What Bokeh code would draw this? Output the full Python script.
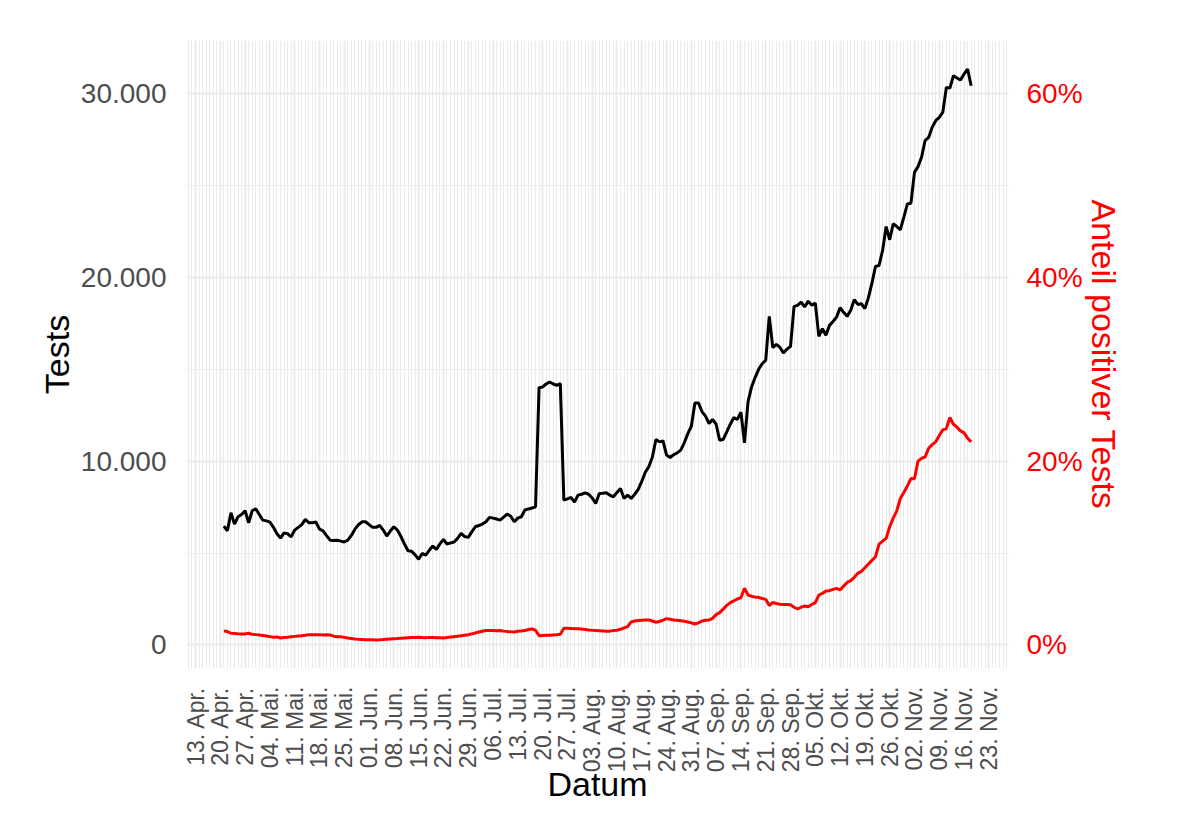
import math
import pandas as pd
from bokeh.plotting import figure
from bokeh.models import (ColumnDataSource, Range1d, LinearAxis, FixedTicker)
from bokeh.embed import file_html
from bokeh.resources import INLINE

# ---------------- data ----------------
start_date = "2020-04-21"
tests = [
    6470, 6210, 7190, 6575, 6975, 7100, 7300, 6650, 7300, 7410, 7100, 6790, 6750, 6685,
    6400, 6050, 5815, 6100, 6050, 5885, 6250, 6400, 6550, 6830, 6650, 6650, 6685, 6300,
    6210, 5950, 5700, 5680, 5700, 5650, 5600, 5700, 5960, 6300, 6540, 6700, 6700, 6550,
    6400, 6400, 6505, 6250, 5925, 6200, 6430, 6250, 5900, 5490, 5125, 5100, 4900, 4660,
    4980, 4890, 5150, 5380, 5200, 5500, 5745, 5490, 5550, 5600, 5800, 6070, 5900, 5850,
    6150, 6430, 6500, 6575, 6700, 6940, 6900, 6850, 6790, 6950, 7120, 7000, 6700, 6900,
    6975, 7340, 7400, 7450, 7515, 14000, 14040, 14200, 14310, 14200, 14130, 14220, 7880, 7950,
    8025, 7770, 8150, 8200, 8280, 8200, 8000, 7700, 8245, 8250, 8280, 8150, 8060, 8300,
    8515, 7970, 8150, 7970, 8200, 8460, 8900, 9400, 9700, 10230, 11180, 11050, 11100, 10330,
    10200, 10350, 10450, 10600, 11000, 11500, 11900, 13170, 13170, 12700, 12450, 12050, 12270, 12010,
    11140, 11180, 11600, 12010, 12375, 12270, 12660, 11000, 13230, 14040, 14550, 15000, 15300, 15490,
    17880, 16180, 16360, 16200, 15890, 16100, 16250, 18425, 18480, 18660, 18390, 18710, 18480, 18600,
    16790, 17210, 16850, 17390, 17600, 17840, 18350, 18100, 17880, 18210, 18790, 18530, 18570, 18300,
    18900, 19700, 20600, 20650, 21470, 22770, 22050, 22920, 22770, 22590, 23280, 24000, 24040, 25720,
    26030, 26540, 27450, 27620, 28170, 28530, 28710, 28990, 30340, 30300, 30980, 30850, 30740, 31070,
    31340, 30430,
]
positive_pct = [
    1.52, 1.45, 1.27, 1.25, 1.22, 1.20, 1.20, 1.27, 1.15, 1.12, 1.07, 1.02, 0.97, 0.90,
    0.83, 0.87, 0.76, 0.80, 0.83, 0.88, 0.93, 0.98, 1.00, 1.05, 1.12, 1.10, 1.10, 1.10,
    1.09, 1.10, 1.09, 0.95, 0.90, 0.88, 0.82, 0.75, 0.70, 0.65, 0.62, 0.60, 0.57, 0.56,
    0.55, 0.54, 0.55, 0.58, 0.62, 0.65, 0.68, 0.70, 0.73, 0.76, 0.78, 0.80, 0.80, 0.83,
    0.80, 0.78, 0.82, 0.80, 0.78, 0.77, 0.76, 0.80, 0.85, 0.90, 0.95, 1.00, 1.05, 1.10,
    1.20, 1.30, 1.40, 1.48, 1.56, 1.56, 1.58, 1.55, 1.56, 1.50, 1.45, 1.42, 1.41, 1.48,
    1.52, 1.56, 1.68, 1.74, 1.60, 1.01, 1.03, 1.05, 1.05, 1.08, 1.10, 1.16, 1.81, 1.82,
    1.80, 1.77, 1.75, 1.72, 1.68, 1.63, 1.60, 1.58, 1.55, 1.52, 1.49, 1.50, 1.56, 1.60,
    1.70, 1.85, 2.00, 2.50, 2.60, 2.65, 2.68, 2.70, 2.72, 2.60, 2.47, 2.55, 2.70, 2.86,
    2.80, 2.72, 2.68, 2.64, 2.57, 2.50, 2.40, 2.28, 2.40, 2.60, 2.68, 2.72, 2.90, 3.30,
    3.51, 3.90, 4.30, 4.60, 4.80, 5.00, 5.14, 6.16, 5.43, 5.30, 5.20, 5.18, 5.05, 4.96,
    4.28, 4.64, 4.50, 4.42, 4.40, 4.40, 4.38, 4.10, 3.91, 4.10, 4.24, 4.16, 4.40, 4.60,
    5.43, 5.60, 5.87, 5.90, 6.05, 6.16, 5.98, 6.40, 6.80, 7.00, 7.36, 7.79, 8.00, 8.40,
    8.80, 9.20, 9.60, 10.98, 11.30, 11.60, 12.86, 13.80, 14.60, 15.94, 16.60, 17.30, 18.10, 18.08,
    20.00, 20.30, 20.47, 21.40, 21.80, 22.10, 22.80, 23.40, 23.55, 24.75, 24.02, 23.70, 23.30, 23.08,
    22.50, 22.10,
]
tick_dates = ["2020-04-13", "2020-04-20", "2020-04-27", "2020-05-04", "2020-05-11",
              "2020-05-18", "2020-05-25", "2020-06-01", "2020-06-08", "2020-06-15",
              "2020-06-22", "2020-06-29", "2020-07-06", "2020-07-13", "2020-07-20",
              "2020-07-27", "2020-08-03", "2020-08-10", "2020-08-17", "2020-08-24",
              "2020-08-31", "2020-09-07", "2020-09-14", "2020-09-21", "2020-09-28",
              "2020-10-05", "2020-10-12", "2020-10-19", "2020-10-26", "2020-11-02",
              "2020-11-09", "2020-11-16", "2020-11-23"]
tick_labels = ["13. Apr.", "20. Apr.", "27. Apr.", "04. Mai.", "11. Mai.", "18. Mai.",
               "25. Mai.", "01. Jun.", "08. Jun.", "15. Jun.", "22. Jun.", "29. Jun.",
               "06. Jul.", "13. Jul.", "20. Jul.", "27. Jul.", "03. Aug.", "10. Aug.",
               "17. Aug.", "24. Aug.", "31. Aug.", "07. Sep.", "14. Sep.", "21. Sep.",
               "28. Sep.", "05. Okt.", "12. Okt.", "19. Okt.", "26. Okt.", "02. Nov.",
               "09. Nov.", "16. Nov.", "23. Nov."]
y_ticks = [0, 10000, 20000, 30000]
y_labels = ["0", "10.000", "20.000", "30.000"]
pct_ticks = [0, 20, 40, 60]
pct_labels = ["0%", "20%", "40%", "60%"]

# ---------------- build ----------------
dates = pd.date_range(start_date, periods=len(tests), freq="D")
scale = 50000 / 100.0  # 20 % <-> 10.000 tests
src = ColumnDataSource(dict(date=dates, tests=tests, pct=positive_pct))

def ms(d):
    return float(pd.Timestamp(d).value // 10**6)

DAY = 86400000.0
x0 = ms(dates[0]) - 0.05 * (ms(dates[-1]) - ms(dates[0]))
x1 = ms(dates[-1]) + 0.05 * (ms(dates[-1]) - ms(dates[0]))
ymin = min(min(tests), min(positive_pct) * scale)
ymax = max(max(tests), max(positive_pct) * scale)
pad = 0.05 * (ymax - ymin)
y0, y1 = ymin - pad, ymax + pad

FONT = "Liberation Sans"
GRID = "#EBEBEB"
TICKC = "#4D4D4D"

W, H = 1184, 818
p = figure(width=W, height=H, x_axis_type="datetime",
           x_range=Range1d(x0, x1), y_range=Range1d(y0, y1),
           output_backend="svg", toolbar_location=None,
           min_border_left=186, min_border_right=W - 1008,
           min_border_top=40, min_border_bottom=H - 668)
p.outline_line_color = None
p.background_fill_color = "white"
p.border_fill_color = "white"

p.extra_y_ranges = {"pct": Range1d(y0 / scale, y1 / scale)}

major_x = [ms(d) for d in tick_dates]
first_day = ms(tick_dates[0]) - 3 * DAY
minor_x = [first_day + i * DAY for i in range(int((x1 - first_day) / DAY) + 2)]

xa = p.xaxis[0]
xa.ticker = FixedTicker(ticks=major_x, minor_ticks=minor_x)
xa.major_label_overrides = {t: l for t, l in zip(major_x, tick_labels)}
xa.major_label_orientation = math.pi / 2
xa.axis_label = "Datum"

ya = p.yaxis[0]
ya.ticker = FixedTicker(ticks=y_ticks, minor_ticks=[5000, 15000, 25000])
ya.major_label_overrides = {t: l for t, l in zip(y_ticks, y_labels)}
ya.axis_label = "Tests"

ra = LinearAxis(y_range_name="pct", ticker=FixedTicker(ticks=pct_ticks),
                axis_label="Anteil positiver Tests")
ra.major_label_overrides = {t: l for t, l in zip(pct_ticks, pct_labels)}
p.add_layout(ra, "right")

for ax in (xa, ya, ra):
    ax.axis_line_color = None
    ax.major_tick_line_color = None
    ax.minor_tick_line_color = None
    ax.major_tick_out = 0
    ax.major_tick_in = 0
    ax.minor_tick_out = 0
    ax.minor_tick_in = 0
    ax.major_label_text_font = FONT
    ax.axis_label_text_font = FONT
    ax.axis_label_text_font_style = "normal"
    ax.major_label_text_color = TICKC
    ax.axis_label_text_color = "black"

xa.major_label_text_font_size = "23px"
xa.major_label_standoff = 18
xa.axis_label_text_font_size = "34px"
xa.axis_label_standoff = -10

ya.major_label_text_font_size = "28px"
ya.major_label_standoff = 20
ya.axis_label_text_font_size = "34px"
ya.axis_label_standoff = 2

ra.major_label_text_font_size = "28px"
ra.major_label_text_color = "red"
ra.major_label_standoff = 18
ra.axis_label_text_font_size = "34px"
ra.axis_label_text_color = "red"
ra.axis_label_standoff = -1

p.xgrid.grid_line_color = GRID
p.xgrid.grid_line_width = 2
p.xgrid.minor_grid_line_color = GRID
p.xgrid.minor_grid_line_width = 1
p.ygrid.grid_line_color = GRID
p.ygrid.grid_line_width = 2
p.ygrid.minor_grid_line_color = GRID
p.ygrid.minor_grid_line_width = 1

p.line("date", "tests", source=src, line_color="black", line_width=3)
p.line("date", "pct", source=src, y_range_name="pct", line_color="red", line_width=3)

open("out.html", "w").write(file_html(p, INLINE))
